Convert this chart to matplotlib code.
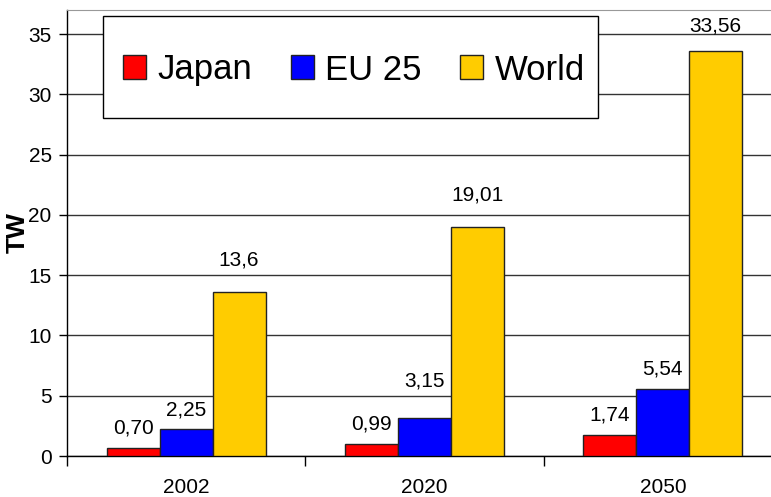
import matplotlib
matplotlib.use('Agg')
import matplotlib.pyplot as plt
import numpy as np
from matplotlib.patches import Rectangle

plt.rcParams['font.family'] = ['Liberation Sans', 'DejaVu Sans']

# ---------- Data ----------
years = ['2002', '2020', '2050']
series = ['Japan', 'EU 25', 'World']
japan = [0.70, 0.99, 1.74]
eu25 = [2.25, 3.15, 5.54]
world = [13.6, 19.01, 33.56]
labels_japan = ['0,70', '0,99', '1,74']
labels_eu25 = ['2,25', '3,15', '5,54']
labels_world = ['13,6', '19,01', '33,56']
colors = ['#FF0000', '#0000FF', '#FFCC00']

# label lift above each bar (pixels), as placed in the original
lift_japan = [19.5, 20, 20]
lift_eu25 = [19, 37, 20]
lift_world = [32, 32, 25.5]

# ---------- Plot ----------
W, H = 771, 497
fig = plt.figure(figsize=(W / 100, H / 100), dpi=100)
ax = fig.add_axes([67 / W, (H - 456) / H, 715 / W, 446 / H])

x = np.arange(len(years))
bw = 0.222
values = [japan, eu25, world]
texts = [labels_japan, labels_eu25, labels_world]
lifts = [lift_japan, lift_eu25, lift_world]
for i, (vals, c, name) in enumerate(zip(values, colors, series)):
    pos = x + (i - 1) * bw
    ax.bar(pos, vals, bw, color=c, edgecolor='#222222', linewidth=1.0,
           label=name, zorder=3)
    for px, v, t, lf in zip(pos, vals, texts[i], lifts[i]):
        ax.annotate(t, (px, v), xytext=(0, lf * 0.72), textcoords='offset points',
                    ha='center', va='center', fontsize=15, zorder=4)

ax.set_xlim(-0.5, 2.5)
ax.set_ylim(0, 37)
ax.set_yticks(np.arange(0, 36, 5))
ax.set_xticks(x)
ax.set_xticklabels(years)
ax.set_xticks([-0.5, 0.5, 1.5, 2.5], minor=True)
ax.tick_params(axis='x', which='major', length=0, pad=16, labelsize=15)
ax.tick_params(axis='x', which='minor', length=7, width=1, direction='out')
ax.tick_params(axis='y', length=6, width=1, direction='out', pad=5, labelsize=15)

ax.yaxis.grid(True, color='#333333', linewidth=1.0, zorder=0)
ax.set_axisbelow(True)
ax.spines['right'].set_visible(False)
ax.spines['top'].set_color('#999999')
ax.spines['left'].set_linewidth(1.0)
ax.spines['bottom'].set_linewidth(1.0)

fig.text(18 / W, 1 - 233 / H, 'TW', rotation=90, fontsize=19, fontweight='bold',
         ha='center', va='center')

# legend box
fig.patches.append(Rectangle((103 / W, 1 - 118 / H), (598 - 103) / W, 102 / H,
                             transform=fig.transFigure, facecolor='white',
                             edgecolor='black', linewidth=1.0, zorder=5))
leg = fig.legend(loc='center left', bbox_to_anchor=(123 / W, 1 - 70 / H),
                 ncol=3, fontsize=25, frameon=False, borderpad=0,
                 borderaxespad=0, handlelength=0.66, handleheight=0.68,
                 handletextpad=0.34, columnspacing=1.1)
leg.set_zorder(6)

fig.savefig('out.png', dpi=100)
